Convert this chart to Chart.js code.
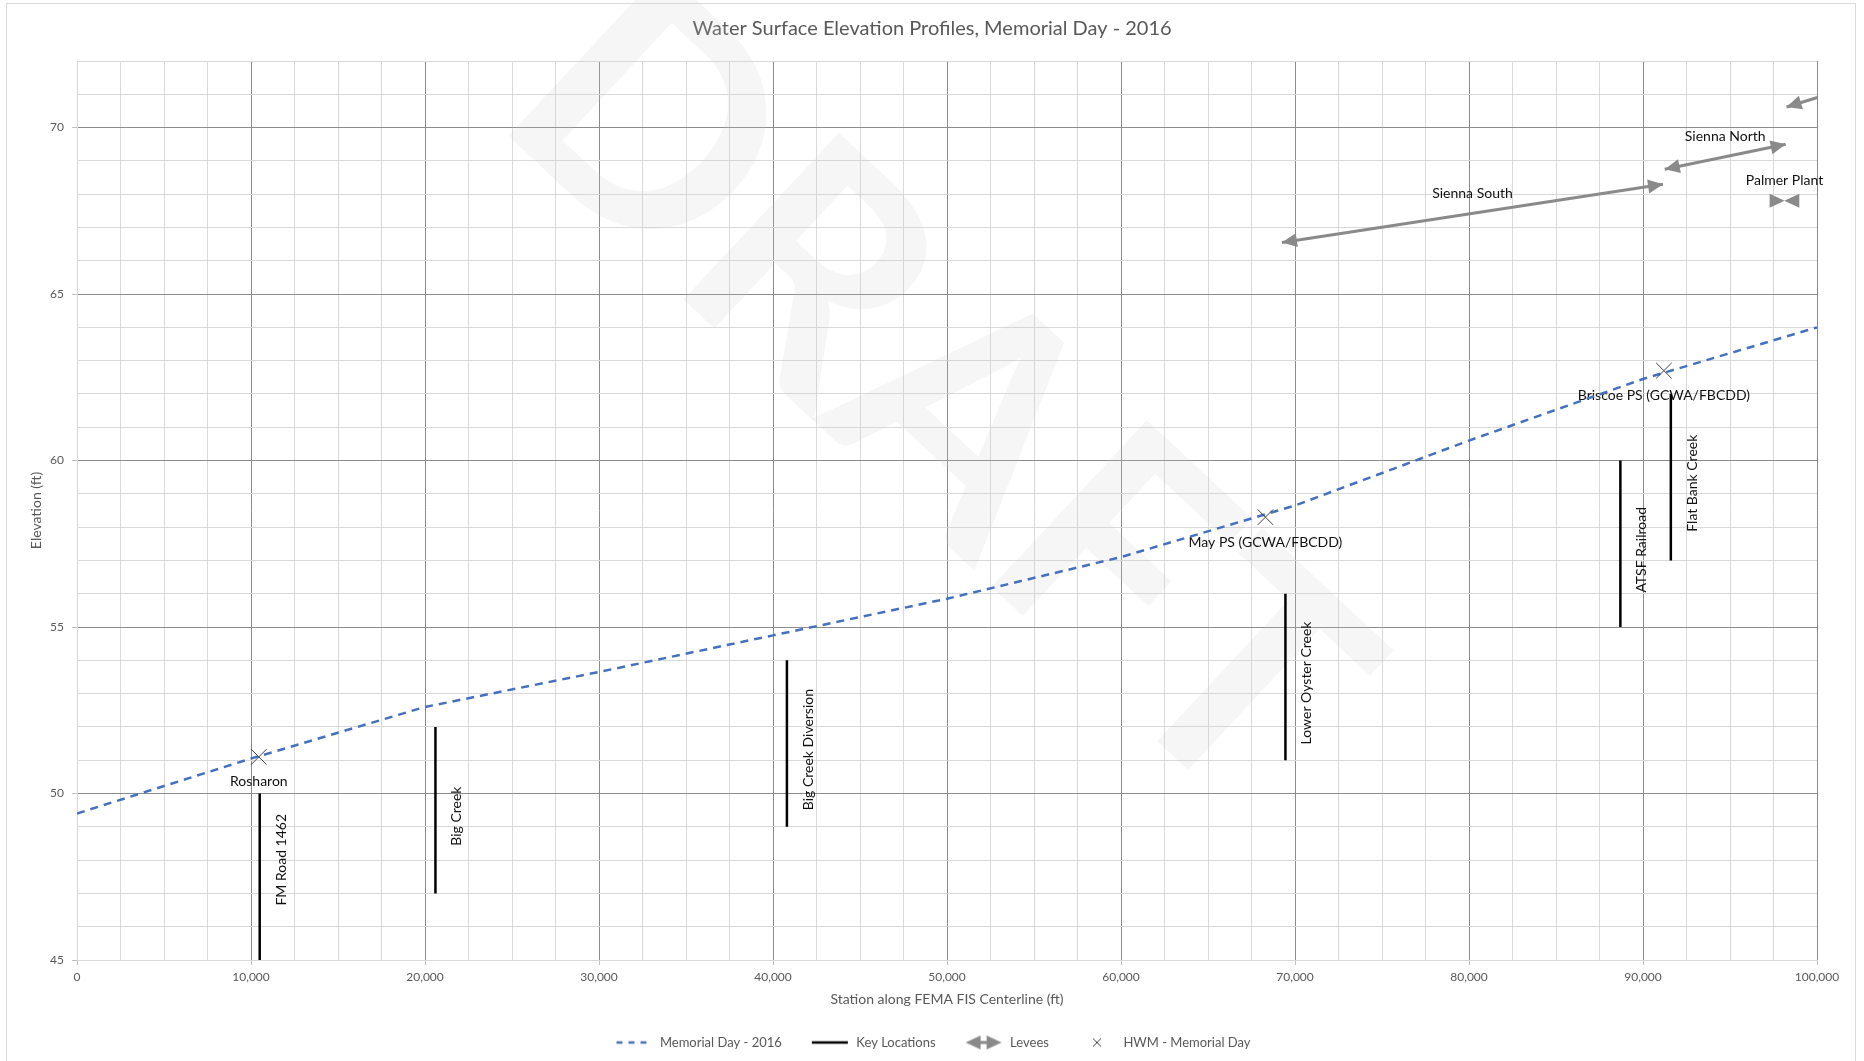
<!DOCTYPE html>
<html>
<head>
  <title>Water Surface Elevation Profiles, Memorial Day - 2016</title>
  <script src="https://cdn.jsdelivr.net/npm/chart.js"></script>
  <style>
    html, body { margin: 0; padding: 0; background: #fff; }
    #wrap { position: relative; width: 1864px; height: 1061px; }
  </style>
</head>
<body>
  <div id="wrap"><canvas id="wseChart"></canvas></div>

  <script>
    // Memorial Day 2016 profile, station (ft) vs water surface elevation (ft)
    const profileStation = [0, 10000, 20000, 30000, 40000, 50000, 60000, 70000, 80000, 90000, 100000];
    const profileElev = [49.4, 51.05, 52.6, 53.65, 54.75, 55.85, 57.1, 58.65, 60.6, 62.45, 64.0];

    // high water marks
    const hwmNames = ['Rosharon', 'May PS (GCWA/FBCDD)', 'Briscoe PS (GCWA/FBCDD)'];
    const hwmStation = [10450, 68300, 91200];
    const hwmElev = [51.1, 58.3, 62.7];

    // key locations (vertical bars)
    const keyNames = ['FM Road 1462', 'Big Creek', 'Big Creek Diversion', 'Lower Oyster Creek', 'ATSF Railroad', 'Flat Bank Creek'];
    const keyStation = [10500, 20600, 40800, 69450, 88700, 91600];
    const keyTop = [50, 52, 54, 56, 60, 62];
    const keyBottom = [45, 47, 49, 51, 55, 57];

    // levees (double arrows)
    const leveeNames = ['Sienna South', 'Sienna North', 'Palmer Plant', ''];
    const leveeStartX = [69250, 91250, 98120, 98250];
    const leveeStartY = [66.55, 68.75, 67.8, 70.62];
    const leveeEndX = [91150, 98200, 98140, 102500];
    const leveeEndY = [68.3, 69.5, 67.8, 71.3];

    // axis tick labels
    const xTickLabels = [0, 10000, 20000, 30000, 40000, 50000, 60000, 70000, 80000, 90000, 100000];
    const yTickLabels = [45, 50, 55, 60, 65, 70];

    const MAJOR = '#8c8c8c';
    const MINOR = '#d9d9d9';
    const TXT = '#595959';
    const LEVEE = '#8a8a8a';
    const BLUE = '#4570bf';

    Chart.defaults.font.family = 'Lato';

    const profilePts = profileStation.map((x, i) => ({ x: x, y: profileElev[i] }));
    const hwmPts = hwmStation.map((x, i) => ({ x: x, y: hwmElev[i] }));
    const keyPts = [];
    keyStation.forEach((x, i) => {
      keyPts.push({ x: x, y: keyTop[i] }, { x: x, y: keyBottom[i] }, { x: x, y: null });
    });
    const leveePts = [];
    leveeStartX.forEach((x, i) => {
      leveePts.push({ x: x, y: leveeStartY[i] }, { x: leveeEndX[i], y: leveeEndY[i] }, { x: leveeEndX[i], y: null });
    });

    function arrowHead(ctx, tipX, tipY, fromX, fromY) {
      const a = Math.atan2(tipY - fromY, tipX - fromX);
      ctx.save();
      ctx.translate(tipX, tipY);
      ctx.rotate(a);
      ctx.beginPath();
      ctx.moveTo(0, 0);
      ctx.lineTo(-15, -7);
      ctx.lineTo(-15, 7);
      ctx.closePath();
      ctx.fill();
      ctx.restore();
    }

    // little pictures for the legend
    function legendIcon(kind) {
      const c = document.createElement('canvas');
      c.width = 40; c.height = 16;
      const g = c.getContext('2d');
      if (kind === 'dash') {
        g.strokeStyle = BLUE; g.lineWidth = 2.5; g.setLineDash([6, 6]);
        g.beginPath(); g.moveTo(3, 8); g.lineTo(38, 8); g.stroke();
      } else if (kind === 'line') {
        g.strokeStyle = '#000'; g.lineWidth = 2.5;
        g.beginPath(); g.moveTo(2, 8); g.lineTo(38, 8); g.stroke();
      } else if (kind === 'arrow') {
        g.strokeStyle = LEVEE; g.fillStyle = LEVEE; g.lineWidth = 3;
        g.beginPath(); g.moveTo(8, 8); g.lineTo(32, 8); g.stroke();
        arrowHead(g, 2, 8, 20, 8);
        arrowHead(g, 38, 8, 20, 8);
      } else {
        g.strokeStyle = '#404040'; g.lineWidth = 1;
        g.beginPath(); g.moveTo(16, 4); g.lineTo(24, 12); g.moveTo(24, 4); g.lineTo(16, 12); g.stroke();
      }
      return c;
    }

    const watermark = {
      id: 'watermark',
      beforeDatasetsDraw(chart) {
        const ctx = chart.ctx;
        ctx.save();
        ctx.translate(935, 395);
        ctx.rotate(43 * Math.PI / 180);
        ctx.font = 'bold 315px Lato';
        ctx.fillStyle = 'rgba(200,200,200,0.17)';
        ctx.textAlign = 'center';
        ctx.textBaseline = 'middle';
        ctx.fillText('DRAFT', 0, 0);
        ctx.restore();

        // HWM names sit under the other marks
        const xs = chart.scales.x, ys = chart.scales.y;
        ctx.save();
        ctx.font = '14px Lato';
        ctx.fillStyle = '#111';
        ctx.textAlign = 'center';
        ctx.textBaseline = 'middle';
        hwmNames.forEach((n, i) => {
          ctx.fillText(n, xs.getPixelForValue(hwmStation[i]), ys.getPixelForValue(hwmElev[i]) + 25);
        });
        ctx.restore();
      }
    };

    const annotations = {
      id: 'annotations',
      afterDatasetsDraw(chart) {
        const ctx = chart.ctx;
        const xs = chart.scales.x, ys = chart.scales.y;
        const a = chart.chartArea;

        // arrow heads on the levee lines
        ctx.save();
        ctx.beginPath();
        ctx.rect(a.left, a.top, a.right - a.left, a.bottom - a.top);
        ctx.clip();
        ctx.fillStyle = LEVEE;
        leveeStartX.forEach((x, i) => {
          const x1 = xs.getPixelForValue(x), y1 = ys.getPixelForValue(leveeStartY[i]);
          const x2 = xs.getPixelForValue(leveeEndX[i]), y2 = ys.getPixelForValue(leveeEndY[i]);
          arrowHead(ctx, x1, y1, x2, y2);
          arrowHead(ctx, x2, y2, x1, y1);
        });
        ctx.restore();

        ctx.save();
        ctx.font = '14px Lato';
        ctx.fillStyle = '#111';
        ctx.textAlign = 'center';
        ctx.textBaseline = 'middle';
        leveeNames.forEach((n, i) => {
          if (!n) return;
          const mx = (xs.getPixelForValue(leveeStartX[i]) + xs.getPixelForValue(leveeEndX[i])) / 2;
          const my = (ys.getPixelForValue(leveeStartY[i]) + ys.getPixelForValue(leveeEndY[i])) / 2;
          ctx.fillText(n, mx, my - 20);
        });

        // vertical names beside key locations
        keyNames.forEach((n, i) => {
          const x = xs.getPixelForValue(keyStation[i]) + 21.5;
          let y = (ys.getPixelForValue(keyTop[i]) + ys.getPixelForValue(keyBottom[i])) / 2 + 6;
          if (i === 0) y -= 23;
          ctx.save();
          ctx.translate(x, y);
          ctx.rotate(-Math.PI / 2);
          ctx.fillText(n, 0, 0);
          ctx.restore();
        });
        ctx.restore();
      },
      afterDraw(chart) {
        const ctx = chart.ctx;
        ctx.save();
        ctx.strokeStyle = '#d9d9d9';
        ctx.lineWidth = 1;
        ctx.strokeRect(6.5, 3.5, 1849, 1070);
        ctx.restore();
      }
    };

    const legendItems = [
      { text: 'Memorial Day - 2016', icon: legendIcon('dash') },
      { text: 'Key Locations', icon: legendIcon('line') },
      { text: 'Levees', icon: legendIcon('arrow') },
      { text: 'HWM - Memorial Day', icon: legendIcon('x') }
    ];

    const ctx = document.getElementById('wseChart').getContext('2d');
    const chart = new Chart(ctx, {
      type: 'scatter',
      data: {
        datasets: [
          {
            label: 'Memorial Day - 2016',
            data: profilePts,
            showLine: true,
            borderColor: BLUE,
            borderWidth: 2.5,
            borderDash: [8, 6],
            pointRadius: 0,
            tension: 0,
            order: 4
          },
          {
            label: 'Key Locations',
            data: keyPts,
            showLine: true,
            spanGaps: false,
            borderColor: '#000',
            borderWidth: 2.5,
            pointRadius: 0,
            order: 3
          },
          {
            label: 'Levees',
            data: leveePts,
            showLine: true,
            spanGaps: false,
            borderColor: LEVEE,
            borderWidth: 3,
            pointRadius: 0,
            order: 2
          },
          {
            label: 'HWM - Memorial Day',
            data: hwmPts,
            showLine: false,
            pointStyle: 'crossRot',
            pointRadius: 11,
            borderColor: '#404040',
            borderWidth: 1,
            order: 1
          }
        ]
      },
      options: {
        responsive: true,
        maintainAspectRatio: false,
        animation: false,
        layout: { padding: { top: 0, left: 0, right: 0, bottom: 2 } },
        plugins: {
          tooltip: { enabled: false },
          title: {
            display: true,
            text: 'Water Surface Elevation Profiles, Memorial Day - 2016',
            color: TXT,
            font: { size: 20, weight: 'normal' },
            padding: { top: 17, bottom: 20 }
          },
          legend: {
            position: 'bottom',
            labels: {
              usePointStyle: true,
              pointStyleWidth: 40,
              padding: 28,
              color: TXT,
              font: { size: 13 },
              generateLabels: () => legendItems.map((it, i) => ({
                text: it.text,
                pointStyle: it.icon,
                fillStyle: 'rgba(0,0,0,0)',
                strokeStyle: 'rgba(0,0,0,0)',
                lineWidth: 0,
                fontColor: TXT,
                hidden: false,
                datasetIndex: i
              }))
            }
          }
        },
        scales: {
          x: {
            type: 'linear',
            min: 0,
            max: 100000,
            afterFit(scale) {
              const lg = scale.chart.legend;
              const lh = lg && lg.height ? lg.height : 51;
              scale.height = 1061 - 960 - 2 - lh;
            },
            ticks: {
              stepSize: 2500,
              autoSkip: false,
              maxRotation: 0,
              padding: 5,
              color: TXT,
              font: { size: 12 },
              callback: v => xTickLabels.includes(v) ? v.toLocaleString('en-US') : ''
            },
            grid: {
              tickLength: 5,
              color: c => (c.tick && c.tick.value % 10000 === 0 && c.tick.value !== 0) ? MAJOR : MINOR,
              tickColor: c => (c.tick && c.tick.value % 10000 === 0) ? '#bfbfbf' : 'rgba(0,0,0,0)'
            },
            border: { color: MINOR },
            title: {
              display: true,
              text: 'Station along FEMA FIS Centerline (ft)',
              color: TXT,
              font: { size: 14 },
              padding: { top: 0, bottom: 0 }
            }
          },
          y: {
            type: 'linear',
            min: 45,
            max: 72,
            afterFit(scale) { scale.width = 77; },
            ticks: {
              stepSize: 1,
              autoSkip: false,
              padding: 8,
              color: TXT,
              font: { size: 12 },
              callback: v => yTickLabels.includes(v) ? String(v) : ''
            },
            grid: {
              tickLength: 5,
              color: c => (c.tick && c.tick.value % 5 === 0 && c.tick.value !== 45) ? MAJOR : MINOR,
              tickColor: c => (c.tick && c.tick.value % 5 === 0) ? '#bfbfbf' : 'rgba(0,0,0,0)'
            },
            border: { color: MINOR },
            title: {
              display: true,
              text: 'Elevation (ft)',
              color: TXT,
              font: { size: 14 },
              padding: { top: 28, bottom: 0 }
            }
          },
          yRight: {
            type: 'linear',
            position: 'right',
            display: true,
            afterFit(scale) { scale.width = 47; },
            grid: { display: false, drawTicks: false },
            ticks: { display: false },
            border: { display: false }
          }
        }
      },
      plugins: [watermark, annotations]
    });
  </script>
</body>
</html>
